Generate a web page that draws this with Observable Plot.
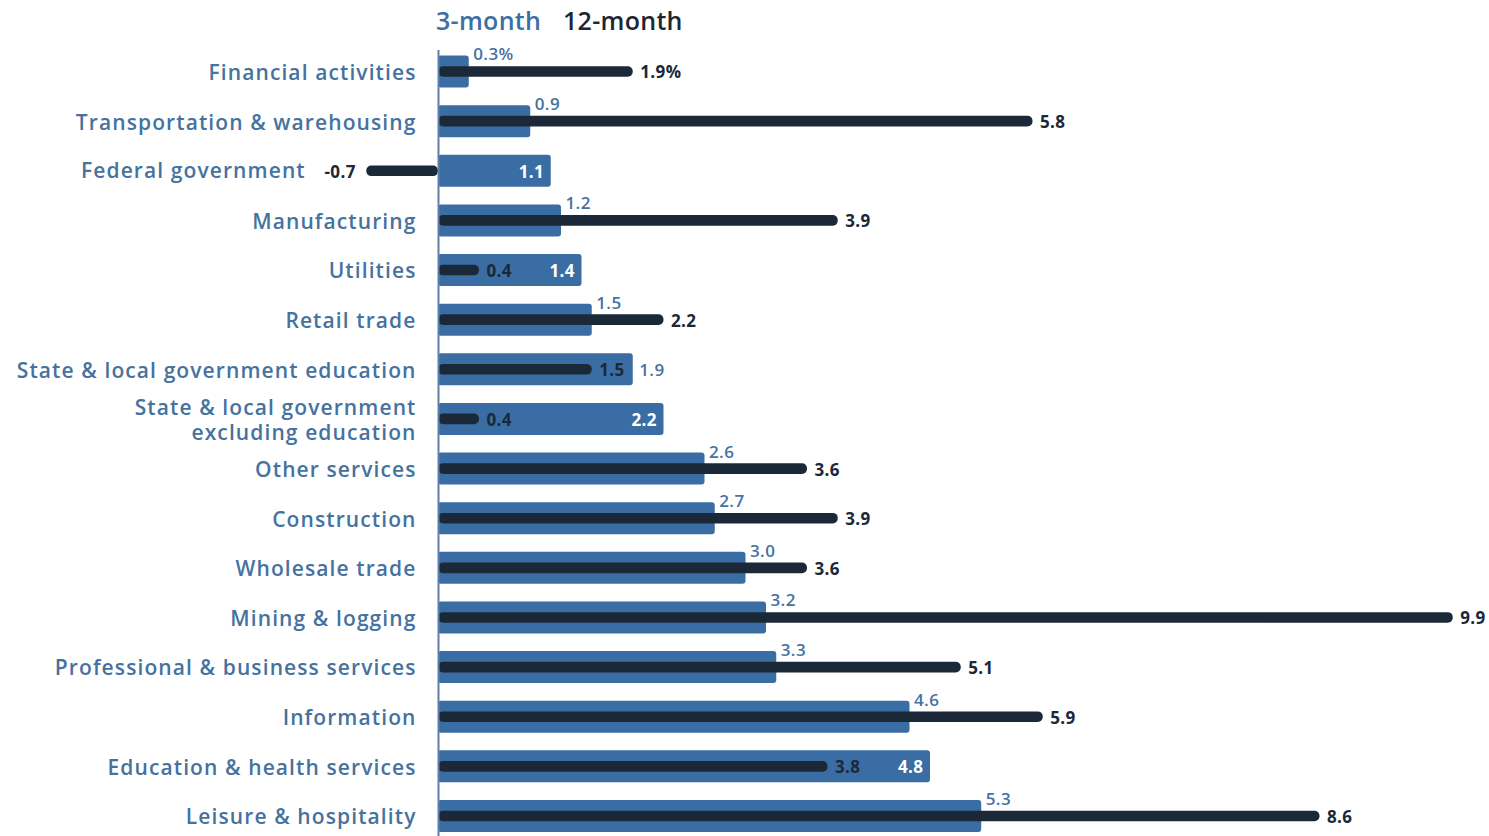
<!DOCTYPE html>
<html>
<head>
<meta charset="utf-8">
<script src="https://cdn.jsdelivr.net/npm/d3@7"></script>
<script src="https://cdn.jsdelivr.net/npm/@observablehq/plot@0.6"></script>
<style>
  body { margin: 0; background: #fff; font-family: "Open Sans", sans-serif; }
  #legend { height: 38px; position: relative; font-size: 25px; font-weight: 600; }
  #legend span { position: absolute; top: 8px; line-height: 1; letter-spacing: 0.3px; }
  #chart svg { display: block; }
  g[aria-label="y-axis tick label"] text, .catlabel text { letter-spacing: 1.1px; }
  .vlabel text { letter-spacing: 0.4px; }
</style>
</head>
<body>
<div id="legend"><span style="left:436px;color:#3d6fa3">3-month</span><span style="left:563px;color:#1c2635">12-month</span></div>
<div id="chart"></div>
<script>
const categories = [
  "Financial activities",
  "Transportation & warehousing",
  "Federal government",
  "Manufacturing",
  "Utilities",
  "Retail trade",
  "State & local government education",
  "State & local government\nexcluding education",
  "Other services",
  "Construction",
  "Wholesale trade",
  "Mining & logging",
  "Professional & business services",
  "Information",
  "Education & health services",
  "Leisure & hospitality"
];
const threeMonth = [0.3, 0.9, 1.1, 1.2, 1.4, 1.5, 1.9, 2.2, 2.6, 2.7, 3.0, 3.2, 3.3, 4.6, 4.8, 5.3];
const twelveMonth = [1.9, 5.8, -0.7, 3.9, 0.4, 2.2, 1.5, 0.4, 3.6, 3.9, 3.6, 9.9, 5.1, 5.9, 3.8, 8.6];

const data = categories.map((c, i) => ({
  cat: c,
  m3: threeMonth[i],
  m12: twelveMonth[i],
  first: i === 0
}));
const fmt = (v, first) => v.toFixed(1) + (first ? "%" : "");

const BLUE = "#3a6da3";
const LABEL = "#45729f";
const DARK = "#1b2838";

const above = data.filter(d => d.m12 > d.m3);
const inside = data.filter(d => d.m12 <= d.m3 && d.m3 - Math.max(d.m12, 0) >= 0.6);
const outside = data.filter(d => d.m12 <= d.m3 && d.m3 - Math.max(d.m12, 0) < 0.6);
const negatives = data.filter(d => d.m12 < 0);

const plot = Plot.plot({
  width: 1489,
  height: 798,
  marginLeft: 438,
  marginRight: 0,
  marginTop: 12,
  marginBottom: 0,
  style: { fontFamily: "Open Sans, sans-serif", background: "#fff" },
  x: { domain: [0, 9.9], range: [438, 438 + 9.9 * 102.5], axis: null },
  y: { domain: categories, range: [8.7, 802.8], padding: 0, round: false, axis: null },
  marks: [
    Plot.barX(data, { y: "cat", x1: 0, x2: "m3", fill: BLUE, insetTop: 8.8, insetBottom: 8.8, rx: 3 }),
    Plot.barX(data, { y: "cat", x1: 0, x2: "m12", fill: DARK, insetTop: 19.5, insetBottom: 19.5, rx: 5 }),
    Plot.ruleX([0], { stroke: "#5d80aa", strokeWidth: 2 }),
    Plot.axisY({
      label: null, tickSize: 0, tickPadding: 22, fontSize: 21, fontWeight: 600, fill: LABEL, lineHeight: 1.17,
      tickFormat: d => (negatives.some(n => n.cat === d) ? "" : d)
    }),
    // category label pushed left of a negative 12-month bar
    Plot.text(negatives, { y: "cat", x: "m12", text: "cat", textAnchor: "end", dx: -61, fontSize: 21, fontWeight: 600, fill: LABEL, className: "catlabel" }),
    // 12-month labels
    Plot.text(data.filter(d => d.m12 >= 0), { y: "cat", x: "m12", text: d => fmt(d.m12, d.first), textAnchor: "start", dx: 7, dy: 1, fill: DARK, fontSize: 17, fontWeight: 700, className: "vlabel" }),
    Plot.text(negatives, { y: "cat", x: "m12", text: d => fmt(d.m12, d.first), textAnchor: "end", dx: -11, dy: 1, fill: DARK, fontSize: 17, fontWeight: 700, className: "vlabel" }),
    // 3-month labels
    Plot.text(above, { y: "cat", x: "m3", text: d => fmt(d.m3, d.first), textAnchor: "start", dx: 4, dy: -17, fill: LABEL, fontSize: 17, fontWeight: 600, className: "vlabel" }),
    Plot.text(inside, { y: "cat", x: "m3", text: d => fmt(d.m3, d.first), textAnchor: "end", dx: -7, dy: 1, fill: "#fff", fontSize: 17, fontWeight: 700, className: "vlabel" }),
    Plot.text(outside, { y: "cat", x: "m3", text: d => fmt(d.m3, d.first), textAnchor: "start", dx: 6, dy: 1, fill: LABEL, fontSize: 17, fontWeight: 600, className: "vlabel" })
  ]
});
document.getElementById("chart").appendChild(plot);
</script>
</body>
</html>
